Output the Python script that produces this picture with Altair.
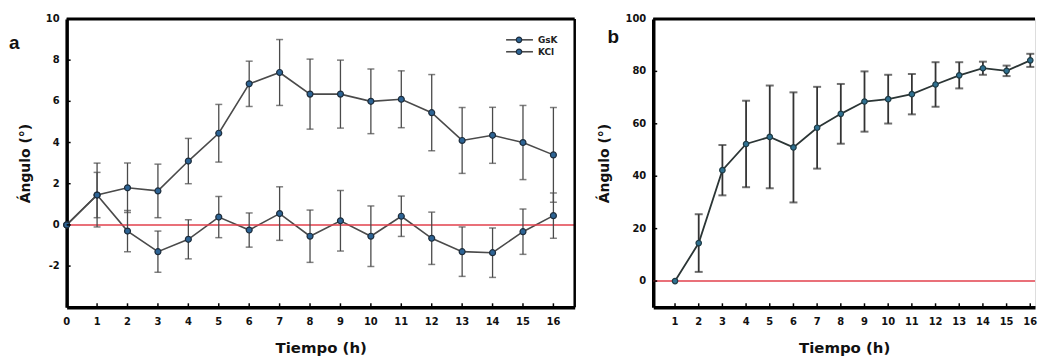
import altair as alt
import pandas as pd

# ---------------- data ----------------
hours_a = list(range(17))
gsk_mean = [0, 1.45, 1.8, 1.65, 3.1, 4.45, 6.85, 7.4, 6.35, 6.35, 6.0, 6.1, 5.45, 4.1, 4.35, 4.0, 3.4]
gsk_err = [0, 1.55, 1.2, 1.3, 1.1, 1.4, 1.1, 1.6, 1.7, 1.65, 1.57, 1.38, 1.85, 1.6, 1.36, 1.8, 2.3]
kcl_mean = [0, 1.45, -0.3, -1.3, -0.7, 0.38, -0.25, 0.55, -0.55, 0.2, -0.55, 0.42, -0.65, -1.3, -1.35, -0.33, 0.45]
kcl_err = [0, 1.1, 1.0, 1.0, 0.95, 1.0, 0.83, 1.3, 1.27, 1.47, 1.47, 0.98, 1.27, 1.2, 1.2, 1.1, 1.1]
series_names = ["GsK", "KCl"]

hours_b = list(range(1, 17))
b_mean = [0, 14.5, 42.3, 52.3, 55, 51, 58.5, 63.8, 68.5, 69.4, 71.3, 75, 78.5, 81.2, 80.2, 84.2]
b_err = [0, 11, 9.6, 16.5, 19.6, 21, 15.6, 11.4, 11.5, 9.3, 7.7, 8.5, 5, 2.5, 2, 2.5]

yticks_a = [-2, 0, 2, 4, 6, 8, 10]
xticks_a = list(range(17))
yticks_b = [0, 20, 40, 60, 80, 100]
xticks_b = list(range(1, 17))

# ---------------- styling ----------------
FONT = "DejaVu Sans"
LINE = "#4a4a4a"
MFILL = "#2d6495"
MSTROKE = "#1e2d3c"
RED = "#e2404c"
W_A, W_B, H = 511, 384, 290

rows = []
for name, m, e in [(series_names[0], gsk_mean, gsk_err), (series_names[1], kcl_mean, kcl_err)]:
    for h, mv, ev in zip(hours_a, m, e):
        rows.append({"serie": name, "h": h, "m": mv, "lo": mv - ev, "hi": mv + ev, "e": ev})
df_a = pd.DataFrame(rows)
df_a_err = df_a[df_a["e"] > 0]
df_b = pd.DataFrame({"h": hours_b, "m": b_mean,
                     "lo": [m - e for m, e in zip(b_mean, b_err)],
                     "hi": [m + e for m, e in zip(b_mean, b_err)], "e": b_err})
df_b_err = df_b[df_b["e"] > 0]
one = pd.DataFrame({"k": [0]})


def axis_x():
    return alt.Axis(labels=False, minExtent=22, maxExtent=22, title="Tiempo (h)", titlePadding=11,
                    titleFontSize=15)


def axis_y(tp):
    return alt.Axis(labels=False, minExtent=20, maxExtent=20, title="Ángulo (°)", titlePadding=tp,
                    titleFontSize=14)


def tick_layers(xvals, yvals, xfield_scale, yfield_scale):
    xdf = pd.DataFrame({"v": xvals, "t": [str(v) for v in xvals]})
    ydf = pd.DataFrame({"v": yvals, "t": [str(v) for v in yvals]})
    out = [
        alt.Chart(ydf).mark_rule(color="black", strokeWidth=1.5).encode(
            y=alt.Y("v:Q", scale=yfield_scale), x=alt.value(0), x2=alt.value(4)),
        alt.Chart(xdf).mark_rule(color="black", strokeWidth=1.5).encode(
            x=alt.X("v:Q", scale=xfield_scale), y=alt.value(H), y2=alt.value(H - 4)),
        alt.Chart(xdf).mark_text(font=FONT, fontSize=10, fontWeight="bold", color="#111",
                                 align="center", baseline="middle").encode(
            x="v:Q", y=alt.value(H + 15), text="t:N"),
        alt.Chart(ydf).mark_text(font=FONT, fontSize=10, fontWeight="bold", color="#111",
                                 align="right", baseline="middle").encode(
            y="v:Q", x=alt.value(-7), text="t:N"),
    ]
    return out


# ---------------- panel a ----------------
sx_a = alt.Scale(domain=[0, 16.7], nice=False, zero=False)
sy_a = alt.Scale(domain=[-4, 10], nice=False, zero=False)
xa = alt.X("h:Q", scale=sx_a, axis=axis_x())
ya = alt.Y("m:Q", scale=sy_a, axis=axis_y(14))

zero_a = alt.Chart(one).mark_rule(color=RED, strokeWidth=1.5).encode(y=alt.datum(0))
err_a = alt.Chart(df_a_err).mark_rule(color=LINE, strokeWidth=1.3).encode(
    x=alt.X("h:Q"), y=alt.Y("lo:Q"), y2="hi:Q", detail="serie:N")
cap_hi_a = alt.Chart(df_a_err).mark_tick(orient="horizontal", color=LINE, size=7, thickness=1.5).encode(
    x="h:Q", y="hi:Q")
cap_lo_a = alt.Chart(df_a_err).mark_tick(orient="horizontal", color=LINE, size=7, thickness=1.5).encode(
    x="h:Q", y="lo:Q")
line_a = alt.Chart(df_a).mark_line(color=LINE, strokeWidth=1.6).encode(x=xa, y=ya, detail="serie:N")
pts_a = alt.Chart(df_a).mark_point(filled=False, fill=MFILL, stroke=MSTROKE, strokeWidth=1.2,
                                   size=36, opacity=1, shape="circle").encode(x="h:Q", y="m:Q")

top_a = alt.Chart(one).mark_rule(color="black", strokeWidth=3).encode(
    x=alt.value(0), x2=alt.value(W_A), y=alt.value(0))
right_a = alt.Chart(one).mark_rule(color="black", strokeWidth=2.5).encode(
    x=alt.value(W_A), y=alt.value(0), y2=alt.value(H))
lab_a = alt.Chart(one).mark_text(text="a", font="Liberation Sans", fontSize=19, fontWeight="bold",
                                 align="left", baseline="middle", color="#111").encode(
    x=alt.value(-58), y=alt.value(24))

leg = []
for i, name in enumerate(series_names):
    yy = 21 + 12 * i
    leg.append(alt.Chart(one).mark_rule(color=LINE, strokeWidth=1.6).encode(
        x=alt.value(442), x2=alt.value(469), y=alt.value(yy)))
    leg.append(alt.Chart(one).mark_point(filled=False, fill=MFILL, stroke=MSTROKE, strokeWidth=1.2,
                                         size=30, opacity=1).encode(x=alt.value(455), y=alt.value(yy)))
    leg.append(alt.Chart(one).mark_text(text=name, font=FONT, fontSize=9, fontWeight="bold", align="left",
                                        baseline="middle", color="#222").encode(x=alt.value(474), y=alt.value(yy)))

panel_a = alt.layer(line_a, zero_a, err_a, cap_hi_a, cap_lo_a, pts_a,
                    *tick_layers(xticks_a, yticks_a, sx_a, sy_a), top_a, right_a,
                    lab_a, *leg).properties(width=W_A, height=H)

# ---------------- panel b ----------------
sx_b = alt.Scale(domain=[0.08, 16.2], nice=False, zero=False)
sy_b = alt.Scale(domain=[-10, 100], nice=False, zero=False)
xb = alt.X("h:Q", scale=sx_b, axis=axis_x())
yb = alt.Y("m:Q", scale=sy_b, axis=axis_y(22))

zero_b = alt.Chart(one).mark_rule(color=RED, strokeWidth=1.5).encode(y=alt.datum(0))
err_b = alt.Chart(df_b_err).mark_rule(color="#333", strokeWidth=1.8).encode(x="h:Q", y="lo:Q", y2="hi:Q")
cap_hi_b = alt.Chart(df_b_err).mark_tick(orient="horizontal", color="#333", size=8, thickness=2).encode(
    x="h:Q", y="hi:Q")
cap_lo_b = alt.Chart(df_b_err).mark_tick(orient="horizontal", color="#333", size=8, thickness=2).encode(
    x="h:Q", y="lo:Q")
line_b = alt.Chart(df_b).mark_line(color="#2b3535", strokeWidth=1.8).encode(x=xb, y=yb)
pts_b = alt.Chart(df_b).mark_point(filled=False, fill="#2f7090", stroke="#1e3a44", strokeWidth=1.2,
                                   size=30, opacity=1).encode(x="h:Q", y="m:Q")
top_b = alt.Chart(one).mark_rule(color="black", strokeWidth=3).encode(
    x=alt.value(0), x2=alt.value(W_B), y=alt.value(0))
lab_b = alt.Chart(one).mark_text(text="b", font="Liberation Sans", fontSize=19, fontWeight="bold",
                                 align="left", baseline="middle", color="#111").encode(
    x=alt.value(-46), y=alt.value(18))

panel_b = alt.layer(line_b, zero_b, err_b, cap_hi_b, cap_lo_b, pts_b,
                    *tick_layers(xticks_b, yticks_b, sx_b, sy_b), top_b,
                    lab_b).properties(width=W_B, height=H)

chart = alt.hconcat(panel_a, panel_b, spacing=20).properties(
    padding={"left": 0, "top": 4, "right": 0, "bottom": 0}
).configure_view(stroke=None).configure(background="white").configure_axis(
    ticks=False, grid=False, domainColor="black", domainWidth=3.5,
    titleFont=FONT, titleFontWeight="bold", titleColor="#111"
)

chart.save("out.html", embed_options={"renderer": "svg", "actions": False})
